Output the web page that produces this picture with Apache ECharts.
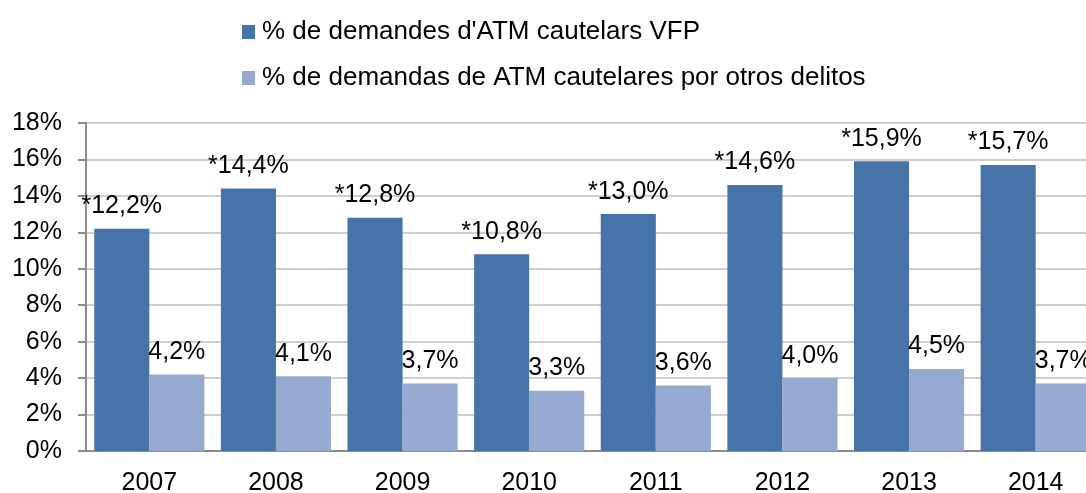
<!DOCTYPE html>
<html>
<head>
<meta charset="utf-8">
<script src="https://cdn.jsdelivr.net/npm/echarts@6/dist/echarts.min.js"></script>
<style>
  html, body { margin: 0; padding: 0; background: #fff; }
  #chart { width: 1086px; height: 493px; }
</style>
</head>
<body>
<div id="chart"></div>
<script>
// data
const years = ['2007', '2008', '2009', '2010', '2011', '2012', '2013', '2014'];
const vfpValues = [12.2, 14.4, 12.8, 10.8, 13.0, 14.6, 15.9, 15.7];
const otherValues = [4.2, 4.1, 3.7, 3.3, 3.6, 4.0, 4.5, 3.7];
const seriesNames = [
  "% de demandes d'ATM cautelars VFP",
  '% de demandas de ATM cautelares por otros delitos'
];

const font = 'Liberation Sans, Arial, sans-serif';
const fmt = (v) => v.toFixed(1).replace('.', ',') + '%';

const chart = echarts.init(document.getElementById('chart'));

chart.setOption({
  animation: false,
  textStyle: { fontFamily: font },
  legend: {
    orient: 'vertical',
    left: 242,
    top: 19,
    padding: 0,
    itemWidth: 13,
    itemHeight: 14,
    itemGap: 20,
    icon: 'rect',
    textStyle: { fontSize: 26, color: '#000', fontFamily: font, padding: [0, 0, 0, 2] },
    data: seriesNames
  },
  // plot area runs past the right edge, the last bar is cut off
  grid: { left: 86, width: 1013, top: 123, bottom: 42, outerBoundsMode: 'none' },
  xAxis: {
    type: 'category',
    data: years,
    axisLine: { lineStyle: { color: '#8c8c8c', width: 2 } },
    axisTick: { length: 8, lineStyle: { color: '#8c8c8c', width: 2 } },
    axisLabel: { fontSize: 25, color: '#000', margin: 20 }
  },
  yAxis: {
    type: 'value',
    min: 0,
    max: 18,
    interval: 2,
    axisLine: { show: true, lineStyle: { color: '#8c8c8c', width: 2 } },
    axisTick: { show: true, length: 8, lineStyle: { color: '#8c8c8c', width: 2 } },
    axisLabel: { fontSize: 25, color: '#000', margin: 24, formatter: '{value}%' },
    splitLine: { lineStyle: { color: '#cfcfcf', width: 2 } }
  },
  series: [
    {
      name: seriesNames[0],
      type: 'bar',
      data: vfpValues,
      barGap: '0%',
      barCategoryGap: '13%',
      itemStyle: { color: '#4673a8' },
      label: {
        show: true,
        position: 'top',
        distance: 10,
        fontSize: 25,
        color: '#000',
        formatter: (p) => '*' + fmt(p.value)
      }
    },
    {
      name: seriesNames[1],
      type: 'bar',
      data: otherValues,
      itemStyle: { color: '#95a9d1' },
      label: {
        show: true,
        position: 'top',
        distance: 10,
        fontSize: 25,
        color: '#000',
        formatter: (p) => fmt(p.value)
      }
    }
  ]
});
</script>
</body>
</html>
